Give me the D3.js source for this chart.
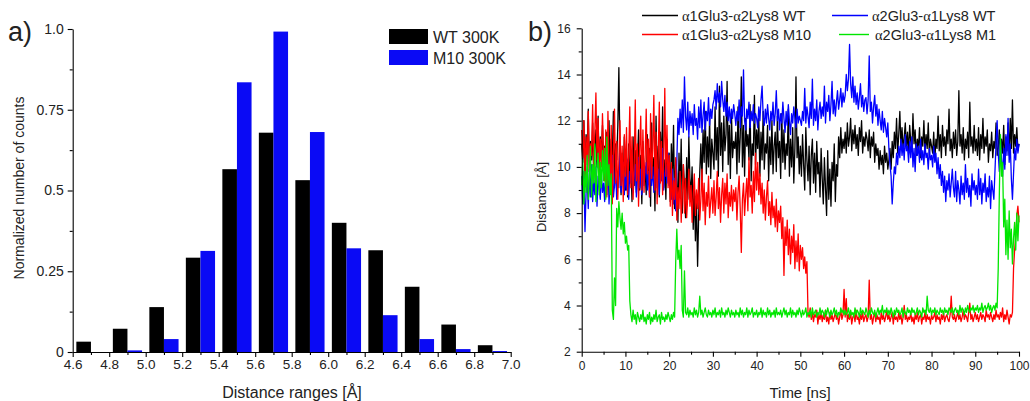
<!DOCTYPE html>
<html>
<head>
<meta charset="utf-8">
<style>
    body { margin: 0; background: #fff; }
    svg text { font-family: "Liberation Sans", Arial, sans-serif; fill: #222; }
    .axis path, .axis line { stroke: #000; stroke-width: 1.1; }
    .trace { fill: none; stroke-width: 1.3; stroke-linejoin: round; }
</style>
</head>
<body>
<svg id="chart" width="1030" height="401"></svg>

<script src="https://cdn.jsdelivr.net/npm/d3@7"></script>
<script>
    "use strict"

    // ---- panel a) histogram ----
    const binCenters = [4.7, 4.9, 5.1, 5.3, 5.5, 5.7, 5.9, 6.1, 6.3, 6.5, 6.7, 6.9];
    const wtCounts = [0.032, 0.072, 0.139, 0.292, 0.566, 0.679, 0.532, 0.400, 0.315, 0.202, 0.085, 0.021];
    const m10Counts = [0.0, 0.005, 0.040, 0.313, 0.835, 0.992, 0.681, 0.321, 0.114, 0.040, 0.009, 0.003];
    const histXTicks = [4.6, 4.8, 5.0, 5.2, 5.4, 5.6, 5.8, 6.0, 6.2, 6.4, 6.6, 6.8, 7.0];
    const histYTicks = [0, 0.25, 0.5, 0.75, 1.0];
    const histYLabels = ["0", "0.25", "0.5", "0.75", "1.0"];
    const histLegend = ["WT 300K", "M10 300K"];

    // ---- panel b) distance vs time, one value every 0.25 ns (first value at t = 0, then 5 ns per row) ----
    const wtA1A2 = [11.0,
        10.2, 12.0, 9.5, 11.4, 10.6, 12.5, 9.8, 11.1, 10.3, 11.9, 9.4, 10.8, 11.6, 10.0, 12.2, 9.7, 11.3, 10.5, 11.8, 9.9,
        10.9, 9.2, 11.5, 10.1, 12.0, 9.6, 11.2, 10.4, 12.4, 9.1, 11.0, 10.3, 11.7, 14.3, 10.5, 8.8, 10.6, 9.4, 11.3, 9.0,
        10.4, 8.7, 11.0, 9.6, 10.1, 8.5, 11.3, 9.2, 10.7, 8.9, 10.2, 11.6, 9.0, 10.5, 8.4, 11.1, 9.7, 10.0, 8.8, 11.4,
        9.3, 10.8, 8.3, 11.9, 9.6, 10.4, 8.1, 12.2, 9.5, 10.9, 8.7, 11.5, 9.9, 12.6, 9.1, 10.3, 8.6, 11.2, 9.8, 10.6,
        8.5, 11.0, 9.4, 11.8, 8.2, 10.3, 9.7, 7.6, 10.6, 8.9, 11.2, 8.0, 10.1, 9.2, 7.8, 10.4, 8.6, 11.3, 9.5, 8.8,
        10.0, 7.3, 9.1, 6.8, 8.5, 5.7, 7.9, 9.8, 11.0, 9.4, 11.6, 10.2, 12.4, 9.7, 11.3, 10.0, 12.1, 9.5, 11.2, 10.6,
        9.9, 12.6, 10.3, 11.7, 9.6, 13.5, 10.5, 11.9, 9.8, 12.2, 10.7, 11.4, 13.7, 10.1, 11.8, 9.5, 12.3, 10.4, 11.1, 10.8,
        11.5, 9.7, 12.6, 10.2, 11.3, 13.9, 10.0, 11.8, 9.6, 12.1, 10.9, 11.4, 10.3, 12.7, 9.4, 11.0, 10.5, 13.1, 10.1, 11.6,
        10.8, 12.1, 9.6, 11.5, 10.3, 12.4, 9.9, 11.0, 10.6, 11.8, 9.4, 11.3, 10.1, 12.0, 9.7, 10.9, 11.5, 9.8, 12.2, 10.4,
        11.1, 9.5, 12.3, 10.2, 11.6, 9.9, 11.0, 10.5, 12.5, 9.6, 11.2, 10.0, 11.7, 9.3, 10.8, 13.9, 10.4, 11.3, 9.7, 10.9,
        9.6, 11.4, 10.1, 9.0, 11.7, 10.3, 9.4, 10.9, 8.8, 10.5, 11.2, 9.3, 10.6, 8.9, 11.1, 9.7, 10.2, 8.7, 10.8, 9.5,
        8.4, 10.4, 9.1, 7.9, 10.7, 8.6, 9.9, 8.3, 10.2, 9.4, 11.0, 8.5, 10.1, 9.6, 11.3, 10.4, 11.7, 10.6, 11.2, 10.8,
        11.5, 10.6, 11.9, 10.9, 11.3, 12.1, 10.7, 11.6, 11.0, 11.8, 10.8, 11.4, 10.5, 11.7, 11.1, 12.0, 10.6, 11.3, 10.9, 11.5,
        11.2, 10.7, 11.6, 10.4, 11.3, 10.9, 11.5, 10.2, 11.0, 10.5, 10.8, 9.9, 10.7, 10.1, 10.5, 9.7, 10.9, 10.2, 10.6, 9.9,
        10.3, 10.8, 9.9, 11.1, 10.4, 11.5, 10.8, 12.1, 10.6, 11.4, 12.4, 10.9, 11.7, 10.7, 11.3, 11.9, 10.8, 11.5, 10.6, 11.8,
        11.1, 10.7, 12.3, 11.0, 11.6, 10.5, 11.2, 10.8, 11.7, 10.4, 11.3, 10.9, 12.0, 10.6, 11.4, 10.8, 11.9, 10.5, 11.2, 10.9,
        10.6, 11.5, 10.3, 11.2, 10.8, 12.2, 10.7, 11.4, 10.4, 11.8, 10.9, 11.3, 10.5, 11.6, 11.0, 12.5, 10.7, 11.2, 10.4, 11.5,
        10.8, 11.6, 10.5, 11.1, 13.3, 10.9, 11.4, 10.6, 11.7, 10.3, 11.2, 10.8, 11.5, 10.4, 12.8, 10.9, 11.3, 10.6, 11.8, 10.7,
        11.2, 10.5, 11.7, 10.3, 11.4, 10.8, 12.1, 10.6, 11.3, 10.9, 11.6, 10.2, 11.0, 10.7, 11.5, 10.4, 11.1, 10.8, 11.9, 10.5,
        10.8, 11.6, 10.4, 11.2, 10.6, 11.8, 10.1, 11.3, 10.7, 11.9, 10.5, 12.1, 10.8, 12.9, 10.6, 11.4, 10.9, 11.7, 10.7, 11.0
    ];
    const wtA2A1 = [9.6,
        8.4, 9.8, 7.2, 8.9, 9.5, 8.2, 9.9, 8.7, 10.1, 8.5, 9.4, 8.8, 10.0, 8.3, 9.6, 9.1, 8.6, 9.7, 8.9, 9.3,
        8.5, 9.9, 8.8, 10.3, 8.4, 9.6, 9.0, 10.5, 8.7, 9.2, 10.0, 8.6, 9.8, 9.1, 10.6, 8.9, 9.4, 10.2, 8.8, 9.7,
        9.0, 10.3, 8.6, 9.8, 9.3, 10.7, 8.9, 9.6, 10.1, 8.7, 9.5, 10.4, 9.1, 9.9, 8.8, 10.6, 9.2, 9.7, 10.2, 9.0,
        9.8, 8.7, 10.4, 9.2, 10.0, 8.9, 9.6, 10.5, 9.1, 9.9, 8.8, 10.3, 9.4, 10.8, 9.0, 9.7, 10.1, 9.3, 10.6, 9.2,
        9.7, 8.6, 9.9, 8.4, 9.5, 8.1, 10.2, 12.1, 11.4, 12.5, 11.7, 12.9, 11.5, 13.9, 12.2, 11.6, 12.8, 11.3, 12.4, 11.8,
        12.3, 11.4, 12.7, 11.8, 12.1, 11.2, 12.6, 11.7, 12.9, 11.5, 12.2, 12.8, 11.6, 12.4, 12.0, 13.0, 11.8, 12.5, 12.1, 12.7,
        12.9, 13.3, 12.5, 13.6, 12.8, 13.2, 12.6, 13.7, 12.9, 12.4, 13.1, 12.2, 12.8, 12.0, 12.6, 11.9, 12.5, 12.1, 12.7, 12.3,
        11.8, 12.4, 12.0, 12.9, 11.7, 12.6, 12.2, 14.2, 12.0, 11.6, 12.5, 12.1, 12.8, 11.7, 12.4, 12.0, 12.7, 11.9, 12.3, 12.1,
        11.7, 12.6, 12.0, 12.9, 13.5, 12.2, 11.8, 12.5, 11.9, 12.7, 12.1, 11.6, 12.4, 12.0, 12.8, 11.8, 12.3, 13.3, 12.0, 12.5,
        11.6, 12.3, 11.9, 12.8, 12.1, 11.5, 12.4, 11.8, 12.7, 12.0, 11.4, 12.3, 11.9, 12.6, 12.1, 11.7, 12.5, 11.9, 12.2, 12.0,
        11.8, 12.4, 12.0, 13.4, 11.9, 12.6, 12.2, 11.7, 12.8, 12.1, 13.8, 11.8, 12.5, 12.0, 12.9, 11.6, 12.4, 12.8, 12.1, 12.6,
        12.2, 13.5, 11.9, 12.8, 12.4, 13.1, 12.0, 12.7, 13.7, 12.3, 12.9, 12.2, 12.8, 13.3, 12.5, 12.9, 13.4, 12.6, 13.2, 12.8,
        13.1, 14.0, 13.3, 13.8, 15.3, 13.6, 13.0, 13.9, 12.8, 13.5, 12.7, 13.2, 12.5, 13.0, 13.6, 12.6, 13.1, 12.4, 12.9, 13.0,
        12.3, 12.9, 14.8, 12.4, 12.8, 11.9, 12.6, 13.1, 12.2, 12.7, 11.8, 12.5, 12.0, 11.6, 12.4, 11.5, 12.1, 11.7, 11.3, 11.9,
        10.8, 10.1, 9.6, 8.4, 9.3, 10.0, 9.7, 10.6, 10.1, 10.9, 10.4, 11.2, 10.5, 11.0, 10.3, 11.4, 10.7, 10.9, 10.2, 11.1,
        10.4, 11.3, 10.0, 10.8, 9.8, 11.0, 10.5, 10.9, 10.2, 11.2, 10.3, 10.7, 10.1, 11.0, 10.4, 10.6, 9.9, 10.8, 10.3, 10.5,
        10.0, 10.9, 10.2, 10.6, 9.7, 10.4, 9.5, 10.1, 9.2, 9.8, 8.9, 9.6, 8.5, 9.4, 9.0, 9.7, 8.7, 9.3, 9.9, 9.1,
        8.7, 9.8, 8.5, 9.4, 9.0, 8.4, 9.6, 8.8, 9.3, 8.6, 10.1, 8.9, 9.5, 8.7, 9.2, 8.3, 9.7, 9.0, 9.4, 8.8,
        9.2, 8.6, 9.9, 8.8, 9.5, 8.4, 9.3, 8.9, 9.7, 8.5, 9.1, 8.7, 9.6, 8.2, 9.4, 9.0, 8.6, 9.8, 11.0, 12.0,
        10.6, 9.8, 11.2, 10.3, 9.6, 10.8, 9.9, 11.4, 10.5, 12.1, 10.2, 11.0, 9.5, 8.6, 9.7, 10.8, 10.3, 11.2, 10.6, 11.0
    ];
    const m10A1A2 = [11.6,
        10.4, 12.0, 9.6, 11.3, 10.1, 12.4, 9.8, 11.0, 10.5, 12.7, 9.9, 11.5, 13.2, 10.3, 12.1, 9.7, 11.2, 10.0, 12.3, 10.6,
        9.4, 11.6, 8.7, 12.4, 10.1, 9.0, 11.8, 8.4, 10.6, 12.5, 9.3, 11.1, 8.6, 10.3, 12.0, 9.2, 10.9, 8.5, 11.4, 9.6,
        11.7, 8.8, 10.5, 12.6, 9.1, 11.3, 8.6, 10.0, 12.9, 9.4, 11.0, 8.3, 10.7, 12.2, 9.0, 11.6, 8.9, 10.4, 12.5, 9.7,
        11.2, 8.7, 12.3, 9.5, 10.8, 13.1, 9.0, 11.5, 8.4, 10.6, 12.8, 9.3, 11.1, 8.8, 10.2, 13.4, 9.6, 11.8, 9.1, 10.5,
        8.3, 10.2, 7.9, 9.4, 8.6, 10.4, 7.7, 9.1, 8.2, 9.8, 7.6, 8.9, 10.1, 8.0, 9.5, 7.8, 8.7, 9.9, 8.3, 9.2,
        7.6, 8.8, 9.7, 7.9, 9.0, 8.2, 9.5, 7.7, 8.6, 9.9, 8.1, 9.3, 7.5, 8.9, 8.3, 9.6, 7.8, 8.5, 9.1, 8.0,
        9.4, 7.9, 8.7, 9.8, 8.2, 9.1, 7.6, 8.8, 9.5, 8.0, 9.3, 8.4, 9.7, 7.8, 8.9, 8.3, 9.2, 8.1, 9.0, 8.5,
        9.1, 7.7, 8.9, 9.6, 8.2, 6.3, 8.6, 9.3, 7.9, 8.8, 9.5, 8.1, 10.4, 8.7, 9.2, 8.0, 9.8, 8.5, 10.6, 9.0,
        10.2, 8.8, 9.7, 8.4, 9.3, 8.0, 9.0, 7.7, 8.7, 9.4, 7.9, 8.5, 7.5, 8.9, 7.8, 8.3, 7.4, 8.6, 7.2, 8.1,
        7.6, 8.3, 6.9, 7.8, 5.3, 7.4, 6.6, 7.7, 6.2, 7.3, 5.8, 7.0, 6.3, 7.5, 5.6, 6.8, 5.9, 7.1, 5.5, 6.6,
        6.0, 6.5, 5.6, 6.1, 5.4, 5.9, 3.7, 3.5, 3.9, 3.4, 3.7, 3.3, 3.6, 3.5, 3.8, 3.2, 3.6, 3.4, 3.7, 3.3,
        3.6, 3.4, 3.8, 3.3, 3.5, 3.2, 3.7, 3.4, 3.6, 3.3, 3.5, 3.7, 3.4, 3.6, 3.2, 3.5, 3.8, 3.4, 3.6, 4.7,
        3.5, 4.3, 3.3, 3.6, 3.4, 3.7, 3.2, 3.5, 3.6, 3.3, 3.8, 3.4, 3.5, 3.2, 3.6, 3.4, 3.7, 3.3, 3.5, 3.6,
        3.3, 3.5, 5.1, 3.4, 3.6, 3.2, 3.5, 3.7, 3.3, 3.6, 3.4, 3.5, 3.2, 3.7, 3.4, 3.6, 3.3, 3.5, 3.8, 3.4,
        3.6, 3.3, 3.5, 3.7, 3.2, 3.6, 3.4, 3.5, 3.3, 3.7, 3.4, 3.6, 3.2, 3.5, 4.0, 3.4, 3.6, 3.3, 3.5, 3.4,
        3.7, 3.3, 3.5, 3.2, 3.6, 3.4, 3.7, 3.3, 3.5, 3.6, 3.2, 3.5, 3.4, 3.7, 3.3, 3.6, 3.4, 3.5, 3.2, 3.6,
        3.4, 3.5, 3.7, 3.3, 3.6, 3.4, 3.5, 3.2, 3.6, 3.4, 3.7, 3.3, 3.5, 3.6, 3.4, 3.3, 3.6, 4.4, 3.5, 3.4,
        3.6, 3.3, 3.5, 3.7, 3.4, 3.6, 3.3, 3.5, 3.8, 3.4, 3.6, 3.5, 3.3, 3.7, 4.1, 3.4, 3.6, 3.3, 3.5, 3.7,
        3.4, 3.6, 3.3, 3.5, 3.7, 3.4, 3.6, 3.5, 3.3, 3.8, 3.5, 3.6, 3.4, 3.7, 3.5, 3.3, 3.6, 3.4, 3.8, 3.5,
        3.6, 3.4, 3.7, 3.5, 3.9, 3.3, 3.6, 3.4, 3.8, 3.5, 3.2, 3.6, 3.5, 3.7, 5.6, 6.4, 7.0, 7.9, 8.3, 7.6
    ];
    const m1A2A1 = [9.2,
        10.3, 8.4, 9.8, 8.9, 10.5, 8.6, 9.5, 10.9, 8.7, 10.1, 9.3, 11.0, 8.5, 9.9, 10.6, 8.8, 10.2, 9.1, 10.7, 9.4,
        10.8, 8.6, 11.3, 9.2, 10.1, 8.8, 9.7, 3.8, 3.4, 5.2, 4.0, 8.2, 7.4, 8.5, 7.8, 7.3, 8.0, 7.1, 7.6, 6.7,
        7.0, 6.4, 6.6, 4.2, 3.6, 3.3, 3.8, 3.4, 3.6, 3.2, 3.7, 3.5, 3.3, 3.6, 3.4, 3.8, 3.3, 3.5, 3.2, 3.6,
        3.4, 3.7, 3.2, 3.5, 3.3, 3.6, 3.4, 3.8, 3.3, 3.5, 3.6, 3.2, 3.7, 3.4, 3.5, 3.3, 3.6, 3.4, 3.7, 3.5,
        3.3, 3.6, 3.4, 3.7, 3.5, 5.9, 7.3, 6.0, 6.4, 5.6, 6.6, 3.8, 3.5, 5.5, 3.7, 3.6, 3.9, 3.5, 3.8, 3.6,
        3.7, 3.5, 3.9, 3.6, 3.8, 3.5, 3.7, 4.4, 3.6, 3.8, 3.5, 3.7, 3.9, 3.6, 3.5, 3.8, 3.6, 3.7, 3.5, 3.8,
        3.6, 3.9, 3.5, 3.7, 3.6, 3.8, 3.5, 3.9, 3.6, 3.7, 3.5, 3.8, 3.6, 3.9, 3.7, 3.5, 3.8, 3.6, 3.7, 3.5,
        3.8, 3.6, 3.7, 3.5, 3.9, 3.6, 3.8, 3.5, 3.7, 3.6, 3.9, 3.5, 3.8, 3.6, 3.7, 3.9, 3.5, 3.7, 3.6, 3.8,
        3.5, 3.7, 3.6, 3.9, 3.5, 3.8, 3.6, 3.7, 3.5, 3.9, 3.6, 3.8, 3.5, 3.7, 3.6, 3.8, 3.5, 3.9, 3.6, 3.7,
        3.6, 3.8, 3.5, 3.7, 3.9, 3.6, 3.8, 3.5, 3.7, 3.6, 3.9, 3.5, 3.8, 3.6, 3.7, 3.5, 3.8, 3.6, 3.9, 3.7,
        3.5, 3.8, 3.6, 3.7, 3.9, 3.5, 3.7, 3.6, 3.8, 3.5, 3.9, 3.6, 3.7, 3.8, 3.5, 3.7, 3.6, 3.9, 3.6, 3.8,
        3.7, 3.5, 3.8, 3.6, 3.9, 3.7, 3.5, 3.8, 3.6, 3.7, 3.9, 3.6, 3.8, 3.5, 3.7, 3.6, 3.9, 3.7, 3.8, 3.6,
        3.8, 3.6, 3.7, 3.9, 3.5, 3.8, 3.6, 3.7, 3.5, 3.9, 3.6, 3.8, 3.7, 3.5, 3.9, 3.6, 3.8, 3.7, 3.6, 3.9,
        3.7, 3.5, 3.8, 3.6, 3.9, 3.7, 3.6, 3.8, 3.5, 3.7, 3.9, 3.6, 3.8, 3.7, 4.0, 3.6, 3.8, 3.7, 3.9, 3.6,
        3.8, 3.6, 3.9, 3.7, 3.5, 3.8, 3.6, 3.9, 3.7, 3.8, 3.6, 3.7, 3.9, 3.5, 3.8, 3.7, 3.6, 3.9, 3.7, 3.8,
        3.6, 3.9, 3.7, 3.8, 3.6, 3.7, 3.9, 3.6, 3.8, 3.7, 3.5, 3.9, 3.7, 3.8, 3.6, 4.4, 3.8, 3.7, 3.9, 3.6,
        3.8, 3.7, 3.9, 3.6, 3.8, 3.7, 3.6, 3.9, 3.7, 3.8, 3.6, 3.9, 3.7, 3.8, 3.6, 3.9, 3.8, 3.7, 3.9, 3.6,
        3.8, 3.9, 3.7, 3.8, 3.6, 4.0, 3.7, 3.9, 3.8, 3.6, 3.9, 3.7, 4.0, 3.8, 3.7, 3.9, 3.8, 4.0, 3.7, 3.9,
        3.8, 4.0, 3.7, 3.9, 3.8, 4.1, 3.7, 3.9, 4.0, 3.8, 3.9, 4.1, 3.8, 4.0, 3.7, 3.9, 4.0, 3.8, 4.1, 3.9,
        5.6, 8.8, 11.4, 9.6, 10.2, 7.4, 8.6, 6.2, 7.7, 6.0, 8.1, 6.5, 7.3, 5.8, 6.9, 7.6, 6.4, 8.0, 6.8, 7.9
    ];
    const timeStep = 0.25;
    const traceNames = ["\u03b11Glu3-\u03b12Lys8 WT", "\u03b12Glu3-\u03b11Lys8 WT", "\u03b11Glu3-\u03b12Lys8 M10", "\u03b12Glu3-\u03b11Lys8 M1"];
    const traceColors = ["#000000", "#0000ff", "#ff0000", "#00e600"];
    const traceValues = [wtA1A2, wtA2A1, m10A1A2, m1A2A1];

    const svg = d3.select("#chart");

    // ================= panel a =================
    const xA = d3.scaleLinear().domain([4.6, 7.0]).range([72.7, 510.7]);
    const yA = d3.scaleLinear().domain([0, 1]).range([352, 29]);
    const barW = 0.08;

    const gA = svg.append("g");

    gA.selectAll(".wt").data(binCenters).enter().append("rect")
        .attr("x", (d) => xA(d - barW))
        .attr("width", (d) => xA(d) - xA(d - barW))
        .attr("y", (d, i) => yA(wtCounts[i]))
        .attr("height", (d, i) => yA(0) - yA(wtCounts[i]))
        .attr("fill", "#000");

    gA.selectAll(".m10").data(binCenters).enter().append("rect")
        .attr("x", (d) => xA(d))
        .attr("width", (d) => xA(d + barW) - xA(d))
        .attr("y", (d, i) => yA(m10Counts[i]))
        .attr("height", (d, i) => yA(0) - yA(m10Counts[i]))
        .attr("fill", "#0a0af5");

    // minor ticks first, then the labelled ones
    gA.append("g").attr("class", "axis")
        .attr("transform", `translate(0,${yA(0)})`)
        .call(d3.axisBottom(xA).tickValues(binCenters).tickSize(3).tickFormat(""))
        .select(".domain").remove();
    gA.append("g").attr("class", "axis")
        .attr("transform", `translate(0,${yA(0)})`)
        .call(d3.axisBottom(xA).tickValues(histXTicks).tickSize(5).tickSizeOuter(0).tickPadding(2).tickFormat(d3.format(".1f")))
        .selectAll("text").style("font-size", "13.5px").attr("fill", "#222");

    gA.append("g").attr("class", "axis")
        .attr("transform", `translate(${xA(4.6)},0)`)
        .call(d3.axisLeft(yA).tickValues([0.125, 0.375, 0.625, 0.875]).tickSize(3).tickFormat(""))
        .select(".domain").remove();
    gA.append("g").attr("class", "axis")
        .attr("transform", `translate(${xA(4.6)},0)`)
        .call(d3.axisLeft(yA).tickValues(histYTicks).tickSize(5).tickSizeOuter(0).tickPadding(4)
            .tickFormat((d, i) => histYLabels[i]))
        .selectAll("text").style("font-size", "14px").attr("fill", "#222");

    gA.append("text").attr("x", 292).attr("y", 398)
        .attr("text-anchor", "middle").style("font-size", "16px")
        .text("Distance ranges [\u00c5]");
    gA.append("text").attr("transform", "translate(24,188) rotate(-90)")
        .attr("text-anchor", "middle").style("font-size", "14px")
        .text("Normalized number of counts");
    gA.append("text").attr("x", 8).attr("y", 41).style("font-size", "27px").attr("fill", "#000").text("a)");

    const legA = gA.selectAll(".legA").data(histLegend).enter().append("g")
        .attr("transform", (d, i) => `translate(389,${29 + i * 21})`);
    legA.append("rect").attr("width", 39).attr("height", 15)
        .attr("fill", (d, i) => i === 0 ? "#000" : "#0a0af5");
    legA.append("text").attr("x", 44).attr("y", 14).style("font-size", "16px")
        .attr("fill", "#222").text((d) => d);

    // ================= panel b =================
    const xB = d3.scaleLinear().domain([0, 100]).range([581.7, 1019]);
    const yB = d3.scaleLinear().domain([2, 16]).range([351.7, 28.3]);
    const gB = svg.append("g");

    const line = d3.line()
        .x((d, i) => xB(i * timeStep))
        .y((d) => yB(d));

    gB.selectAll(".trace").data(traceValues).enter().append("path")
        .attr("class", "trace")
        .attr("stroke", (d, i) => traceColors[i])
        .attr("d", line);

    gB.append("g").attr("class", "axis")
        .attr("transform", `translate(0,${yB(2)})`)
        .call(d3.axisBottom(xB).tickValues(d3.range(5, 100, 10)).tickSize(3).tickFormat(""))
        .select(".domain").remove();
    gB.append("g").attr("class", "axis")
        .attr("transform", `translate(0,${yB(2)})`)
        .call(d3.axisBottom(xB).tickValues(d3.range(0, 101, 10)).tickSize(5).tickSizeOuter(0).tickPadding(5))
        .selectAll("text").style("font-size", "12px").attr("fill", "#222");

    gB.append("g").attr("class", "axis")
        .attr("transform", `translate(${xB(0)},0)`)
        .call(d3.axisLeft(yB).tickValues(d3.range(3, 16, 2)).tickSize(3).tickFormat(""))
        .select(".domain").remove();
    gB.append("g").attr("class", "axis")
        .attr("transform", `translate(${xB(0)},0)`)
        .call(d3.axisLeft(yB).tickValues(d3.range(2, 17, 2)).tickSize(5).tickSizeOuter(0).tickPadding(6))
        .selectAll("text").style("font-size", "12px").attr("fill", "#222");

    gB.append("text").attr("x", 800).attr("y", 398)
        .attr("text-anchor", "middle").style("font-size", "15px")
        .text("Time [ns]");
    gB.append("text").attr("transform", "translate(546,197) rotate(-90)")
        .attr("text-anchor", "middle").style("font-size", "13px")
        .text("Distance [\u00c5]");
    gB.append("text").attr("x", 528).attr("y", 41).style("font-size", "27px").attr("fill", "#000").text("b)");

    // legend, two columns: WT row on top, mutants below; alpha set in a serif face like the original
    const legPos = [[642, 15.5], [832, 15.5], [642, 34.5], [839, 34.5]];
    const legB = gB.selectAll(".legB").data(traceNames).enter().append("g")
        .attr("transform", (d, i) => `translate(${legPos[i][0]},${legPos[i][1]})`);
    legB.append("line").attr("x1", 0).attr("x2", (d, i) => i === 3 ? 30 : 36)
        .attr("stroke", (d, i) => traceColors[i]).attr("stroke-width", 1.4);
    const legText = legB.append("text").attr("x", (d, i) => i === 3 ? 36 : 40).attr("y", 5)
        .style("font-size", "14.5px").attr("fill", "#222");
    legText.each(function (d) {
        const t = d3.select(this);
        d.split(/(\u03b1)/).filter((s) => s.length).forEach((part) => {
            t.append("tspan")
                .style("font-family", part === "\u03b1" ? "'Liberation Serif', 'DejaVu Serif', serif" : null)
                .text(part);
        });
    });
</script>
</body>
</html>
